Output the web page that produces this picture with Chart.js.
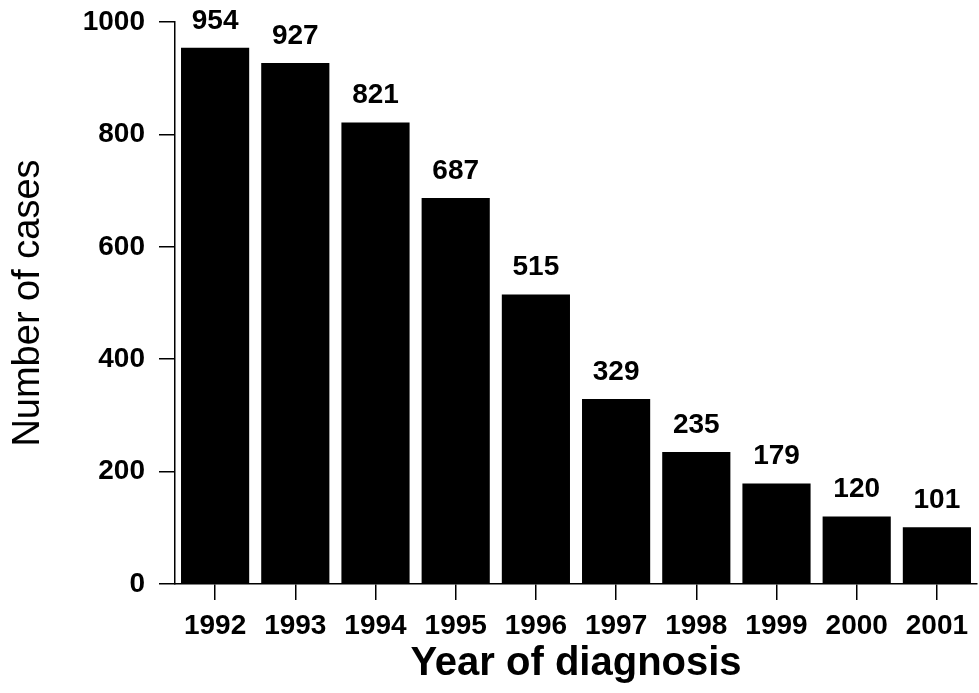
<!DOCTYPE html>
<html>
<head>
<meta charset="utf-8">
<script src="https://cdn.jsdelivr.net/npm/chart.js@4.4.1/dist/chart.umd.min.js"></script>
<style>
    html, body { margin: 0; padding: 0; background: #fff; }
    #wrap { width: 979px; height: 693px; }
</style>
</head>
<body>
<div id="wrap"><canvas id="wykres"></canvas></div>
<script>
const lata = ['1992', '1993', '1994', '1995', '1996', '1997', '1998', '1999', '2000', '2001'];
const przypadki = [954, 927, 821, 687, 515, 329, 235, 179, 120, 101];
const tickiY = [0, 200, 400, 600, 800, 1000];

const czcionka = 'Liberation Sans, Arial, Helvetica, sans-serif';

// napisy z wartościami nad słupkami
const etykiety = {
    id: 'etykiety',
    afterDatasetsDraw(chart) {
        const ctx = chart.ctx;
        const meta = chart.getDatasetMeta(0);
        ctx.save();
        ctx.font = 'bold 28px ' + czcionka;
        ctx.fillStyle = '#000';
        ctx.textAlign = 'center';
        ctx.textBaseline = 'middle';
        meta.data.forEach((bar, i) => {
            ctx.fillText(String(przypadki[i]), bar.x, bar.y - 27);
        });
        ctx.restore();
    }
};

new Chart(document.getElementById('wykres').getContext('2d'), {
    type: 'bar',
    data: {
        labels: lata,
        datasets: [{
            data: przypadki,
            backgroundColor: '#000',
            borderWidth: 0,
            barPercentage: 0.85,
            categoryPercentage: 1.0
        }]
    },
    options: {
        responsive: true,
        maintainAspectRatio: false,
        animation: false,
        layout: { padding: { top: 22, right: 2, bottom: 0, left: 0 } },
        plugins: {
            legend: { display: false },
            tooltip: { enabled: false }
        },
        scales: {
            x: {
                offset: true,
                afterFit: (s) => { s.height = 109; },
                grid: {
                    offset: false,
                    drawOnChartArea: false,
                    tickLength: 16,
                    color: '#000',
                    lineWidth: 1.5
                },
                border: { display: true, color: '#000', width: 1.5 },
                ticks: {
                    color: '#000',
                    padding: 9,
                    maxRotation: 0,
                    font: { family: czcionka, size: 28, weight: 'bold' }
                },
                title: {
                    display: true,
                    text: 'Year of diagnosis',
                    color: '#000',
                    padding: { top: 0, bottom: 5 },
                    font: { family: czcionka, size: 40, weight: 'bold' }
                }
            },
            y: {
                min: 0,
                max: 1000,
                afterFit: (s) => { s.width = 175; s.paddingTop = 0; s.paddingBottom = 0; },
                afterBuildTicks: (s) => { s.ticks = tickiY.map(v => ({ value: v })); },
                grid: {
                    drawOnChartArea: false,
                    tickLength: 16,
                    color: '#000',
                    lineWidth: 1.5
                },
                border: { display: true, color: '#000', width: 1.5 },
                ticks: {
                    color: '#000',
                    padding: 14,
                    callback: (v) => String(v),
                    font: { family: czcionka, size: 28, weight: 'bold' }
                },
                title: {
                    display: true,
                    text: 'Number of cases',
                    color: '#000',
                    padding: { top: 6, bottom: 0 },
                    font: { family: czcionka, size: 38 }
                }
            }
        }
    },
    plugins: [etykiety]
});
</script>
</body>
</html>
